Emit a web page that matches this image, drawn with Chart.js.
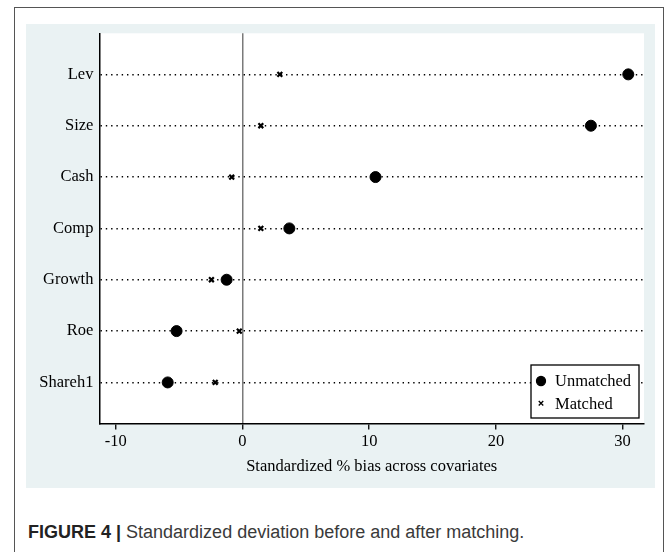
<!DOCTYPE html>
<html><head><meta charset="utf-8">
<script src="https://cdn.jsdelivr.net/npm/chart.js@4/dist/chart.umd.min.js"></script>
<style>
html,body{margin:0;padding:0;background:#fff;width:669px;height:552px;overflow:hidden;position:relative;}
#frame{position:absolute;left:14px;top:7px;width:650px;height:570px;border:1.5px solid #555;box-sizing:border-box;}
#panel{position:absolute;left:26px;top:24px;width:629px;height:464px;background:#eaf2f3;}
canvas{display:block}
#cap{position:absolute;left:28px;top:522px;font-family:"Liberation Sans",Arial,sans-serif;font-size:18px;color:#3a3a3a;white-space:nowrap;}
#cap b{color:#222}
</style>
</head><body>
<div id="frame"></div>
<div id="panel"><canvas id="c" width="629" height="464"></canvas></div>
<div id="cap"><b>FIGURE 4 |</b> Standardized deviation before and after matching.</div>
<script>
const categories = ['Lev','Size','Cash','Comp','Growth','Roe','Shareh1'];
const unmatched = [30.45, 27.5, 10.5, 3.7, -1.25, -5.2, -5.9];
const matched   = [2.95, 1.45, -0.85, 1.45, -2.45, -0.25, -2.15];
const xTicks = [-10, 0, 10, 20, 30];
const seriesNames = ['Unmatched', 'Matched'];
const xTitle = 'Standardized % bias across covariates';

const n = categories.length;
const toPts = arr => arr.map((v, i) => ({x: v, y: n - i}));
const serif = '"Liberation Serif","Times New Roman",serif';

const bgPlugin = {
  id: 'plotbg',
  beforeDraw(chart) {
    const {ctx, chartArea: a} = chart;
    ctx.save();
    ctx.fillStyle = '#ffffff';
    ctx.fillRect(a.left, a.top, a.right - a.left, a.bottom - a.top);
    ctx.restore();
  }
};

const legendPlugin = {
  id: 'boxlegend',
  afterDraw(chart) {
    const {ctx, chartArea: a} = chart;
    const w = 108, h = 53;
    const x1 = a.right - 5 - w, y1 = a.bottom - 5.5 - h;
    ctx.save();
    ctx.fillStyle = '#fff';
    ctx.fillRect(x1, y1, w, h);
    ctx.strokeStyle = '#000';
    ctx.lineWidth = 1.3;
    ctx.strokeRect(x1, y1, w, h);
    const styles = [
      {pointStyle: 'circle', radius: 4.5, borderWidth: 1},
      {pointStyle: 'crossRot', radius: 3.2, borderWidth: 2}
    ];
    ctx.font = '16.5px ' + serif;
    ctx.textBaseline = 'middle';
    ctx.textAlign = 'left';
    seriesNames.forEach((name, i) => {
      const yy = y1 + 16 + i * 22.3;
      ctx.fillStyle = '#000';
      ctx.strokeStyle = '#000';
      Chart.helpers.drawPoint(ctx, styles[i], x1 + 10, yy);
      ctx.fillStyle = '#000';
      ctx.fillText(name, x1 + 24, yy + 1);
    });
    ctx.restore();
  }
};

new Chart(document.getElementById('c'), {
  type: 'scatter',
  data: {
    datasets: [
      {label: seriesNames[0], data: toPts(unmatched), pointStyle: 'circle', pointRadius: 5.5,
       backgroundColor: '#000', borderColor: '#000', borderWidth: 1},
      {label: seriesNames[1], data: toPts(matched), pointStyle: 'crossRot', pointRadius: 3.4,
       backgroundColor: '#000', borderColor: '#000', borderWidth: 2.2}
    ]
  },
  options: {
    responsive: false,
    animation: false,
    devicePixelRatio: 1,
    layout: {padding: {top: 9.3, right: 11, bottom: 0, left: 0}},
    plugins: {legend: {display: false}, tooltip: {enabled: false}},
    scales: {
      x: {
        type: 'linear',
        min: -11.29, max: 31.69,
        afterBuildTicks(s) { s.ticks = xTicks.map(v => ({value: v})); },
        afterFit(s) { s.height = 64.5; s.paddingLeft = 0; s.paddingRight = 0; },
        grid: {
          color: c => (c.tick && c.tick.value === 0) ? '#7a7a7a' : 'rgba(0,0,0,0)',
          lineWidth: 1.5,
          drawTicks: true, tickLength: 6, tickColor: '#000', tickWidth: 1.3
        },
        border: {display: true, color: '#000', width: 1.5},
        ticks: {color: '#000', font: {family: serif, size: 16.5}, padding: 2, maxRotation: 0,
                callback: v => String(v)},
        title: {display: true, text: xTitle, color: '#000', font: {family: serif, size: 16.5},
                padding: {top: 0, bottom: 11.2}}
      },
      y: {
        type: 'linear',
        min: 0.2, max: 7.8,
        afterBuildTicks(s) { s.ticks = categories.map((c, i) => ({value: n - i})); },
        afterFit(s) { s.width = 73.4; s.paddingTop = 0; s.paddingBottom = 0; },
        grid: {color: '#000', lineWidth: 1.4, drawTicks: false},
        border: {display: true, color: '#000', width: 1.5, dash: [1.4, 3.9]},
        ticks: {color: '#000', font: {family: serif, size: 16.5}, padding: 6,
                callback: v => categories[n - v]}
      }
    }
  },
  plugins: [bgPlugin, legendPlugin]
});
</script>
</body></html>
